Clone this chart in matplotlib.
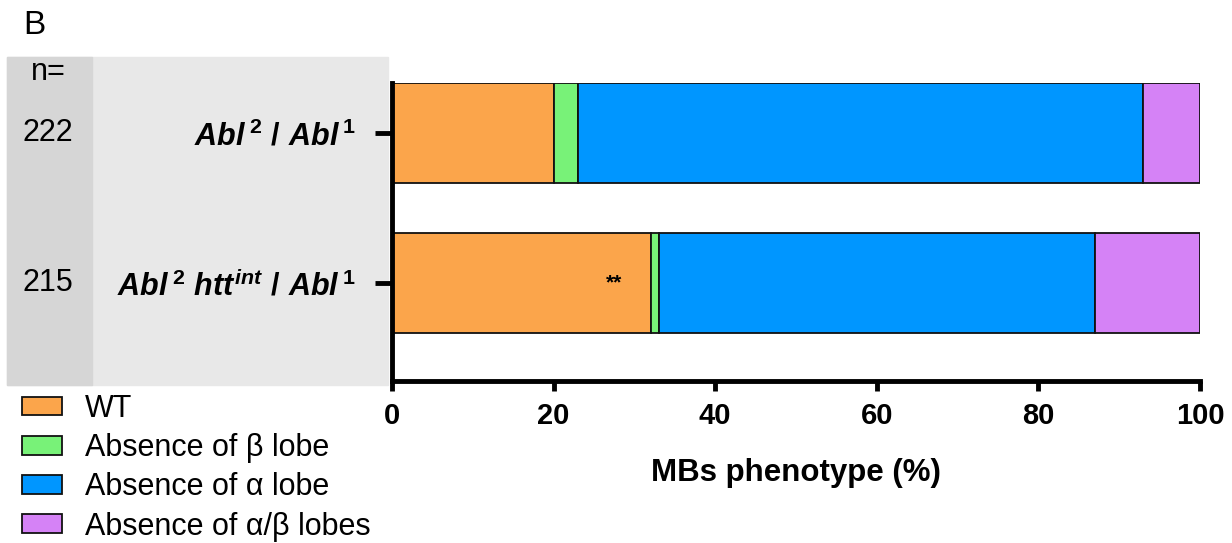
import matplotlib.pyplot as plt
from matplotlib.patches import Rectangle
import numpy as np

plt.rcParams['font.family'] = ['Liberation Sans', 'DejaVu Sans']
plt.rcParams['mathtext.fontset'] = 'custom'
plt.rcParams['mathtext.it'] = 'Liberation Sans:bold:italic'
plt.rcParams['mathtext.rm'] = 'Liberation Sans:bold'
plt.rcParams['mathtext.bf'] = 'Liberation Sans:bold'

# data
genotypes = [r"$Abl^{\,2}\ /\ Abl^{\,1}$", r"$Abl^{\,2}\ htt^{int}\ /\ Abl^{\,1}$"]
n_values = ["222", "215"]
categories = ["WT", "Absence of β lobe", "Absence of α lobe", "Absence of α/β lobes"]
wt = [20, 32]
no_beta = [3, 1]
no_alpha = [70, 54]
no_alphabeta = [7, 13]
colors = ["#FBA54B", "#78F278", "#0096FF", "#D582F6"]

fig = plt.figure(figsize=(12.32, 5.43), dpi=100)
# grey label panel
fig.patches.append(Rectangle((7/1232, 1-385/543), (388-7)/1232, (385-57)/543,
                             transform=fig.transFigure, color="#e8e8e8", zorder=-2))
fig.patches.append(Rectangle((7/1232, 1-385/543), (92-7)/1232, (385-57)/543,
                             transform=fig.transFigure, color="#d6d6d6", zorder=-1))

ax = fig.add_axes([392/1232, 1-381/543, (1200-392)/1232, (381-83)/543])
ax.patch.set_alpha(0)
y = np.arange(len(genotypes))
series = [wt, no_beta, no_alpha, no_alphabeta]
left = np.zeros(len(genotypes))
for vals, lab, c in zip(series, categories, colors):
    ax.barh(y, vals, left=left, height=0.667, color=c, edgecolor="#111111",
            linewidth=1.3, label=lab)
    left += np.array(vals)

ax.text(27.5, 1, "**", ha="center", va="center", fontsize=15, fontweight="bold")

ax.set_xlim(0, 100)
ax.set_ylim(1.653, -0.333)
ax.set_xticks([0, 20, 40, 60, 80, 100])
ax.set_yticks(y)
ax.set_yticklabels(genotypes, fontsize=22)
ax.tick_params(axis="x", labelsize=21, width=3.5, length=7, pad=8)
ax.tick_params(axis="y", width=3.5, length=12, pad=14)
for t in ax.get_xticklabels():
    t.set_fontweight("bold")
for s in ["top", "right"]:
    ax.spines[s].set_visible(False)
for s in ["left", "bottom"]:
    ax.spines[s].set_linewidth(3.5)
ax.set_xlabel("MBs phenotype (%)", fontsize=22.5, fontweight="bold", labelpad=20)

fig.text(48/1232, 1-72/543, "n=", ha="center", va="center", fontsize=22)
for i, n in enumerate(n_values):
    yy = [133, 283][i]
    fig.text(48/1232, 1-yy/543, n, ha="center", va="center", fontsize=22)
fig.text(34/1232, 1-25/543, "B", ha="center", va="center", fontsize=24)

fig.legend(loc="upper left", bbox_to_anchor=(22/1232, 1-394/543), frameon=False,
           fontsize=22, handlelength=1.3, handleheight=0.55, labelspacing=0.3,
           handletextpad=0.75, borderaxespad=0, borderpad=0)

fig.savefig("out.png", dpi=100)
